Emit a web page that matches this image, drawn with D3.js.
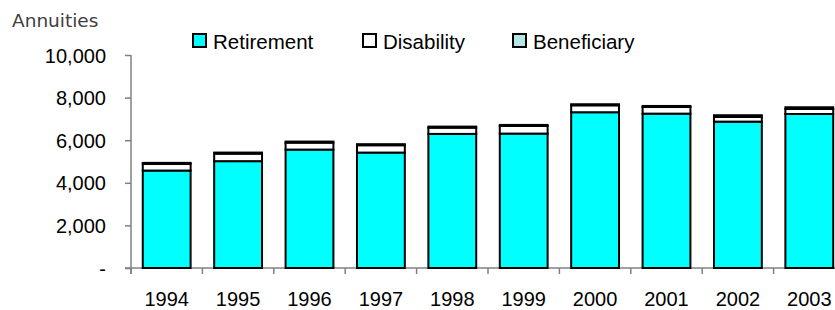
<!DOCTYPE html>
<html>
<head>
<style type="text/css">
    body { margin: 0; background: #fff; }
    svg text { font-family: "Liberation Sans", Arial, sans-serif; fill: #000; }
    .title { font-family: "DejaVu Sans", sans-serif; fill: #404040; }
</style>
</head>
<body>
<svg width="835" height="310"></svg>
<script src="https://cdn.jsdelivr.net/npm/d3@7/dist/d3.min.js"></script>
<script>
    // values
    var years = ["1994", "1995", "1996", "1997", "1998", "1999", "2000", "2001", "2002", "2003"];
    var retirement = [4575, 5016, 5560, 5419, 6295, 6310, 7313, 7247, 6872, 7230];
    var disability = [311, 353, 325, 344, 293, 357, 325, 311, 220, 237];
    var beneficiary = [50, 50, 50, 50, 50, 50, 50, 50, 80, 80];
    var yTicks = [0, 2000, 4000, 6000, 8000, 10000];

    var seriesNames = ["Retirement", "Disability", "Beneficiary"];
    var colors = ["#00ffff", "#ffffff", "#b3e6e6"];

    var data = years.map(function (y, i) {
        return { year: y, Retirement: retirement[i], Disability: disability[i], Beneficiary: beneficiary[i] };
    });

    var svg = d3.select("svg");

    var x = d3.scaleBand().domain(years).range([131, 845]).paddingInner(0.33).paddingOuter(0.165);
    var y = d3.scaleLinear().domain([0, 10000]).range([268, 55]);

    var layers = d3.stack().keys(seriesNames)(data);

    // y axis
    var fmt = function (d) { return d === 0 ? "-" : d3.format(",")(d); };
    var gy = svg.append("g").attr("transform", "translate(131,0)")
        .call(d3.axisLeft(y).tickValues(yTicks).tickFormat(fmt).tickSizeInner(6).tickSizeOuter(0).tickPadding(19));
    gy.select(".domain").remove();
    gy.selectAll("line").attr("stroke", "#808080").attr("stroke-width", 1.5);
    gy.selectAll("text").style("font-size", "20px").attr("dy", "0.35em");
    svg.append("line").attr("x1", 131).attr("x2", 131).attr("y1", 55).attr("y2", 274)
        .attr("stroke", "#808080").attr("stroke-width", 1.5);

    // x axis
    svg.append("line").attr("x1", 125).attr("x2", 845).attr("y1", y(0)).attr("y2", y(0))
        .attr("stroke", "#808080").attr("stroke-width", 1.5);
    var step = x.step();
    svg.append("g").selectAll("line").data(years).enter().append("line")
        .attr("x1", function (d) { return x(d) - (step - x.bandwidth()) / 2; })
        .attr("x2", function (d) { return x(d) - (step - x.bandwidth()) / 2; })
        .attr("y1", y(0)).attr("y2", y(0) + 6)
        .attr("stroke", "#808080").attr("stroke-width", 1.5);

    svg.append("g").selectAll("text").data(years).enter().append("text")
        .attr("x", function (d) { return x(d) + x.bandwidth() / 2; })
        .attr("y", 306)
        .attr("text-anchor", "middle")
        .style("font-size", "20px")
        .text(function (d) { return d; });

    // bars
    svg.append("g").selectAll("g").data(layers).enter().append("g")
        .attr("fill", function (d, i) { return colors[i]; })
        .selectAll("rect").data(function (d) { return d; }).enter().append("rect")
        .attr("x", function (d) { return x(d.data.year); })
        .attr("width", x.bandwidth())
        .attr("y", function (d) { return y(d[1]); })
        .attr("height", function (d) { return y(d[0]) - y(d[1]); })
        .attr("stroke", "#000").attr("stroke-width", 2);

    // title
    svg.append("text").attr("class", "title").attr("x", 12).attr("y", 27)
        .style("font-size", "18.5px").text("Annuities");

    // legend
    var legendX = [193, 363, 513];
    var lg = svg.append("g").selectAll("g").data(seriesNames).enter().append("g")
        .attr("transform", function (d, i) { return "translate(" + legendX[i] + ",34)"; });
    lg.append("rect").attr("width", 13).attr("height", 13)
        .attr("fill", function (d, i) { return colors[i]; })
        .attr("stroke", "#000").attr("stroke-width", 2);
    lg.append("text").attr("x", 20).attr("y", 15).style("font-size", "20.5px")
        .text(function (d) { return d; });
</script>
</body>
</html>
